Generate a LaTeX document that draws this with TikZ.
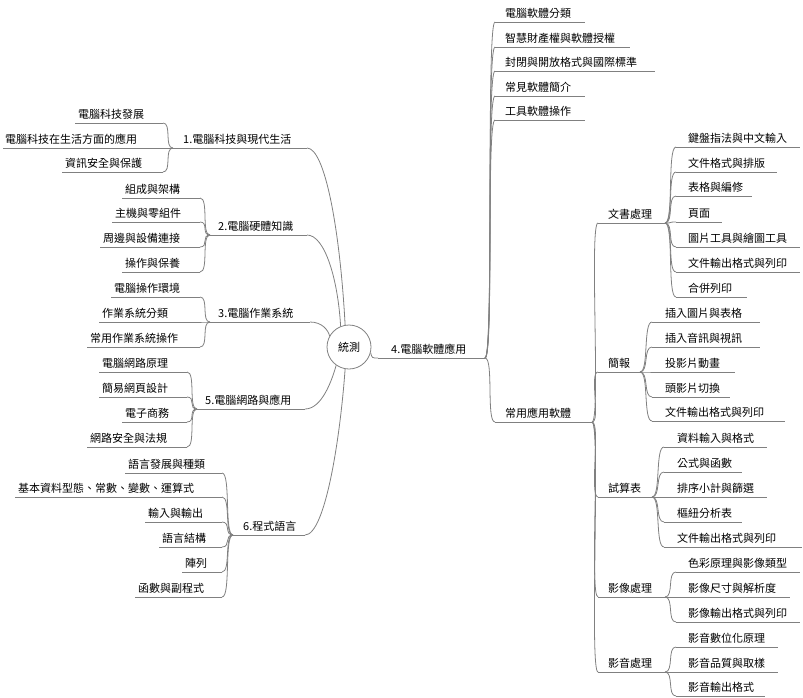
\documentclass[tikz,border=0pt]{standalone}
\usepackage{fontspec}
\usetikzlibrary{calc}
\newfontfamily\cjk{Noto Sans CJK TC}
\tikzset{ln/.style={draw=black!50,line width=0.8pt},
 lab/.style={inner sep=0pt,font=\cjk\fontsize{11}{12}\selectfont},
 cn/.style={ln,looseness=0.5}}
\newcommand\LL[6]{%
 \coordinate (#1-s) at (#2,#4); \coordinate (#1-e) at (#3,#4);
 \draw[ln] (#1-s)--(#1-e);
 \node[lab,anchor=south west] (#1) at (#5,#4-3) {#6};}
\newcommand\CR[2]{\draw[ln] (#1) .. controls ($(#1)+(9,0)$) and ($(#2)-(9,0)$) .. (#2);}
\begin{document}
\begin{tikzpicture}[x=1pt,y=-1pt]
\useasboundingbox (0,0) rectangle (803,697);
% center
\node[draw=black!50,line width=0.8pt,circle,minimum size=44pt,lab] (c) at (349,347) {統測};
% group 1
\LL{g1}{173}{307}{148}{183}{1.電腦科技與現代生活}
\LL{a1}{75}{163}{123}{78}{電腦科技發展}
\LL{a2}{3}{170}{148}{5}{電腦科技在生活方面的應用}
\LL{a3}{62}{163}{172}{65}{資訊安全與保護}
\foreach \k in {a1,a2,a3} {\CR{\k-e}{g1-s}}
% group 2
\LL{g2}{210}{307}{235}{218}{2.電腦硬體知識}
\LL{b1}{122}{200}{198}{125}{組成與架構}
\LL{b2}{112}{200}{222}{115}{主機與零組件}
\LL{b3}{100}{200}{247}{103}{周邊與設備連接}
\LL{b4}{122}{200}{272}{125}{操作與保養}
\foreach \k in {b1,b2,b3,b4} {\CR{\k-e}{g2-s}}
% group 3
\LL{g3}{210}{310}{322}{218}{3.電腦作業系統}
\LL{c1}{111}{200}{297}{114}{電腦操作環境}
\LL{c2}{99}{200}{322}{102}{作業系統分類}
\LL{c3}{87}{200}{347}{90}{常用作業系統操作}
\foreach \k in {c1,c2,c3} {\CR{\k-e}{g3-s}}
% group 5
\LL{g5}{197}{305}{409}{205}{5.電腦網路與應用}
\LL{d1}{99}{187}{372}{102}{電腦網路原理}
\LL{d2}{99}{187}{397}{102}{簡易網頁設計}
\LL{d3}{122}{187}{422}{125}{電子商務}
\LL{d4}{87}{187}{447}{90}{網路安全與法規}
\foreach \k in {d1,d2,d3,d4} {\CR{\k-e}{g5-s}}
% group 6
\LL{g6}{233}{305}{535}{243}{6.程式語言}
\LL{e1}{125}{222}{473}{128}{語言發展與種類}
\LL{e2}{15}{222}{497}{18}{基本資料型態、常數、變數、運算式}
\LL{e3}{145}{222}{522}{148}{輸入與輸出}
\LL{e4}{159}{222}{547}{162}{語言結構}
\LL{e5}{182}{222}{572}{185}{陣列}
\LL{e6}{135}{222}{597}{138}{函數與副程式}
\foreach \k in {e1,e2,e3,e4,e5,e6} {\CR{\k-e}{g6-s}}
% to center
\draw[ln] (g1-e) .. controls (325,148) and (340,230) .. (c.100);
\draw[ln] (g2-e) .. controls (325,235) and (338,280) .. (c.112);
\draw[ln] (g3-e) .. controls (322,322) and (328,330) .. (c.150);
\draw[ln] (g5-e) .. controls (322,409) and (332,380) .. (c.235);
\draw[ln] (g6-e) .. controls (325,535) and (340,440) .. (c.260);
% group 4
\LL{g4}{378}{485}{358}{391}{4.電腦軟體應用}
\draw[ln] (c.-15) .. controls (372,358) .. (g4-s);
\LL{f1}{495}{585}{22}{505}{電腦軟體分類}
\LL{f2}{495}{630}{47}{505}{智慧財產權與軟體授權}
\LL{f3}{495}{655}{71}{505}{封閉與開放格式與國際標準}
\LL{f4}{495}{585}{96}{505}{常見軟體簡介}
\LL{f5}{495}{585}{120}{505}{工具軟體操作}
\LL{f6}{495}{592}{422}{505}{常用應用軟體}
\foreach \k in {f1,f2,f3,f4,f5,f6} {\CR{g4-e}{\k-s}}
\LL{h1}{598}{665}{223}{608}{文書處理}
\LL{h2}{598}{640}{372}{608}{簡報}
\LL{h3}{598}{652}{497}{608}{試算表}
\LL{h4}{598}{665}{597}{608}{影像處理}
\LL{h5}{598}{665}{672}{608}{影音處理}
\foreach \k in {h1,h2,h3,h4,h5} {\CR{f6-e}{\k-s}}
% 文書處理
\LL{i1}{676}{800}{147}{688}{鍵盤指法與中文輸入}
\LL{i2}{676}{777}{172}{688}{文件格式與排版}
\LL{i3}{676}{752}{196}{688}{表格與編修}
\LL{i4}{676}{722}{222}{688}{頁面}
\LL{i5}{676}{800}{247}{688}{圖片工具與繪圖工具}
\LL{i6}{676}{800}{272}{688}{文件輸出格式與列印}
\LL{i7}{676}{747}{297}{688}{合併列印}
\foreach \k in {i1,i2,i3,i4,i5,i6,i7} {\CR{h1-e}{\k-s}}
% 簡報
\LL{j1}{652}{760}{322}{665}{插入圖片與表格}
\LL{j2}{652}{760}{347}{665}{插入音訊與視訊}
\LL{j3}{652}{735}{372}{665}{投影片動畫}
\LL{j4}{652}{730}{397}{665}{頭影片切換}
\LL{j5}{652}{785}{421}{665}{文件輸出格式與列印}
\foreach \k in {j1,j2,j3,j4,j5} {\CR{h2-e}{\k-s}}
% 試算表
\LL{k1}{664}{767}{447}{677}{資料輸入與格式}
\LL{k2}{664}{742}{472}{677}{公式與函數}
\LL{k3}{664}{767}{497}{677}{排序小計與篩選}
\LL{k4}{664}{742}{522}{677}{樞紐分析表}
\LL{k5}{664}{802}{547}{677}{文件輸出格式與列印}
\foreach \k in {k1,k2,k3,k4,k5} {\CR{h3-e}{\k-s}}
% 影像處理
\LL{l1}{676}{800}{572}{688}{色彩原理與影像類型}
\LL{l2}{676}{790}{597}{688}{影像尺寸與解析度}
\LL{l3}{676}{800}{622}{688}{影像輸出格式與列印}
\foreach \k in {l1,l2,l3} {\CR{h4-e}{\k-s}}
% 影音處理
\LL{m1}{676}{778}{647}{688}{影音數位化原理}
\LL{m2}{676}{778}{672}{688}{影音品質與取樣}
\LL{m3}{676}{765}{696}{688}{影音輸出格式}
\foreach \k in {m1,m2,m3} {\CR{h5-e}{\k-s}}
\end{tikzpicture}
\end{document}
